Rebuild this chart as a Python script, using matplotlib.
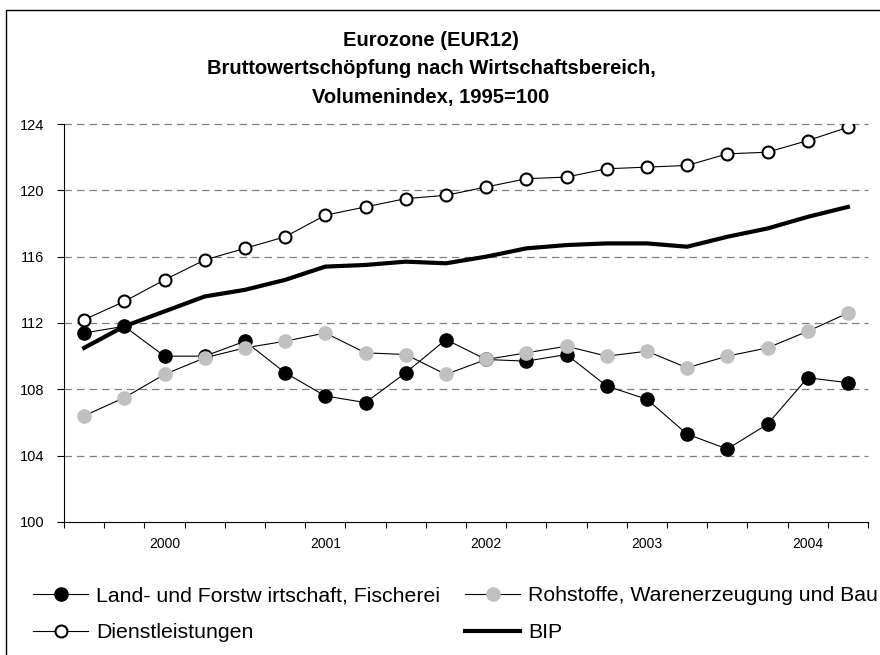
import matplotlib
matplotlib.use("Agg")
import matplotlib.pyplot as plt
from matplotlib.patches import Rectangle

plt.rcParams['font.family'] = ['Liberation Sans', 'DejaVu Sans']

# quarters 1999Q3 .. 2004Q2, labels only at Q1 of each year
quarters = ['1999Q3', '1999Q4',
            '2000Q1', '2000Q2', '2000Q3', '2000Q4',
            '2001Q1', '2001Q2', '2001Q3', '2001Q4',
            '2002Q1', '2002Q2', '2002Q3', '2002Q4',
            '2003Q1', '2003Q2', '2003Q3', '2003Q4',
            '2004Q1', '2004Q2']
year_labels = ['2000', '2001', '2002', '2003', '2004']
year_pos = [2, 6, 10, 14, 18]

land = [111.4, 111.8, 110.0, 110.0, 110.9, 109.0, 107.6, 107.2, 109.0, 111.0,
        109.8, 109.7, 110.1, 108.2, 107.4, 105.3, 104.4, 105.9, 108.7, 108.4]
rohstoffe = [106.4, 107.5, 108.9, 109.9, 110.5, 110.9, 111.4, 110.2, 110.1, 108.9,
             109.8, 110.2, 110.6, 110.0, 110.3, 109.3, 110.0, 110.5, 111.5, 112.6]
dienst = [112.2, 113.3, 114.6, 115.8, 116.5, 117.2, 118.5, 119.0, 119.5, 119.7,
          120.2, 120.7, 120.8, 121.3, 121.4, 121.5, 122.2, 122.3, 123.0, 123.8]
bip = [110.5, 111.8, 112.7, 113.6, 114.0, 114.6, 115.4, 115.5, 115.7, 115.6,
       116.0, 116.5, 116.7, 116.8, 116.8, 116.6, 117.2, 117.7, 118.4, 119.0]

title_lines = ['Eurozone (EUR12)',
               'Bruttowertschöpfung nach Wirtschaftsbereich,',
               'Volumenindex, 1995=100']
names = ['Land- und Forstw irtschaft, Fischerei',
         'Rohstoffe, Warenerzeugung und Bau',
         'Dienstleistungen', 'BIP']

W, H = 880, 655
fig = plt.figure(figsize=(W / 100, H / 100), dpi=100)
fig.add_artist(Rectangle((6 / W, -0.1), 2, 1 - 10 / H + 0.1, transform=fig.transFigure,
                         fill=False, lw=1.0, ec='black'))

ax = fig.add_axes([64 / W, 1 - 522 / H, (868 - 64) / W, (522 - 124) / H])
x = list(range(len(quarters)))

for yv in [104, 108, 112, 116, 120, 124]:
    ax.axhline(yv, color='#808080', lw=0.9, dashes=(6, 4), clip_on=False, zorder=0)

l1, = ax.plot(x, land, color='black', lw=0.8, marker='o', ms=9.5,
              mfc='black', mec='black', label=names[0])
l2, = ax.plot(x, rohstoffe, color='black', lw=0.8, marker='o', ms=9.5,
              mfc='#c0c0c0', mec='#c0c0c0', label=names[1])
l3, = ax.plot(x, dienst, color='black', lw=0.8, marker='o', ms=8.6,
              mfc='white', mec='black', mew=1.5, label=names[2])
l4, = ax.plot(x, bip, color='black', lw=3.0, label=names[3])

ax.set_xlim(-0.5, len(quarters) - 0.5)
ax.set_ylim(100, 124)
ax.set_yticks([100, 104, 108, 112, 116, 120, 124])
ax.tick_params(axis='y', direction='out', length=5, width=0.8, pad=9, labelsize=10.5)
ax.set_xticks(year_pos)
ax.set_xticklabels(year_labels, fontsize=10)
ax.set_xticks([i - 0.5 for i in range(len(quarters) + 1)], minor=True)
ax.tick_params(axis='x', which='major', length=0, pad=11)
ax.tick_params(axis='x', which='minor', direction='out', length=4, width=0.8)
for s in ['top', 'right']:
    ax.spines[s].set_visible(False)
for s in ['left', 'bottom']:
    ax.spines[s].set_linewidth(0.8)

for i, t in enumerate(title_lines):
    fig.text(431 / W, 1 - (40 + 29 * i) / H, t, ha='center', va='center',
             fontsize=14.5, fontweight='bold')

common = dict(frameon=False, fontsize=15.3, handlelength=2.6, handletextpad=0.38,
              borderpad=0, borderaxespad=0, labelspacing=0.85, loc='upper left')
fig.legend([l1, l3], [names[0], names[2]], bbox_to_anchor=(33 / W, 1 - 586 / H), **common)
fig.legend([l2, l4], [names[1], names[3]], bbox_to_anchor=(465 / W, 1 - 586 / H), **common)

fig.savefig('out.png', dpi=100)
